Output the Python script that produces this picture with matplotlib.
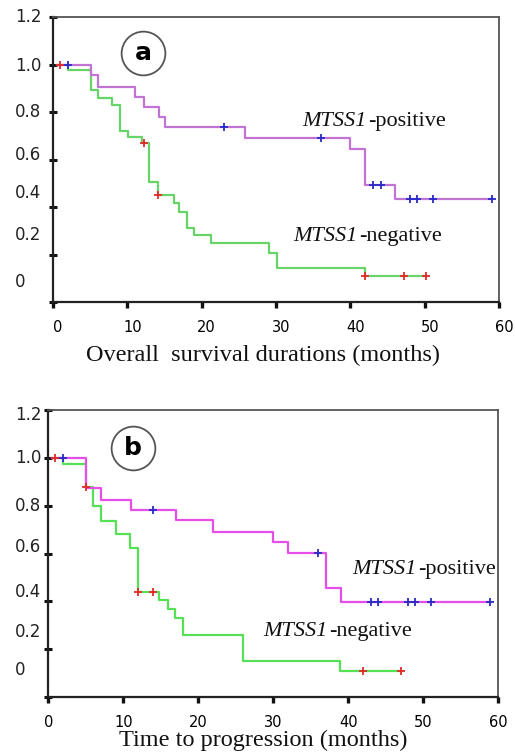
import numpy as np
import matplotlib
matplotlib.use("Agg")
import matplotlib.pyplot as plt
from matplotlib.transforms import ScaledTranslation

# ---------------- data ----------------
# Panel a: overall survival
a_pos_t = [0.5, 5.1, 6, 11, 12.2, 14.2, 15.1, 25.8, 40, 42, 46, 59.1]
a_pos_s = [1.0, 0.956, 0.906, 0.864, 0.822, 0.78, 0.738, 0.692, 0.644, 0.493, 0.434, 0.434]
a_pos_cens = [2, 23, 36.1, 43.1, 44.1, 48, 49, 51.1, 59.1]

a_neg_t = [0.5, 2, 5.1, 6, 8, 9, 10.1, 12, 12.9, 14.1, 16.3, 17, 18, 19, 21.3, 29.1, 30.1, 42, 50.2]
a_neg_s = [1.0, 0.977, 0.893, 0.86, 0.829, 0.72, 0.696, 0.668, 0.507, 0.45, 0.415, 0.38, 0.31,
           0.282, 0.25, 0.208, 0.142, 0.111, 0.111]
a_neg_cens = [1, 12.3, 14.1, 42, 47.2, 50.2]

# Panel b: time to progression
b_pos_t = [0.5, 5, 7, 11, 17, 22, 30, 32, 37, 39, 58.9]
b_pos_s = [1.0, 0.873, 0.825, 0.78, 0.738, 0.689, 0.647, 0.601, 0.454, 0.396, 0.396]
b_pos_cens = [1.9, 14, 36, 43, 43.9, 47.9, 48.9, 51, 58.9]

b_neg_t = [0.5, 1.9, 5, 5.9, 7, 9, 10.9, 12, 14.8, 16, 16.9, 18, 25.9, 38.9, 47]
b_neg_s = [1.0, 0.974, 0.877, 0.8, 0.737, 0.68, 0.622, 0.44, 0.406, 0.368, 0.332, 0.259,
           0.152, 0.11, 0.11]
b_neg_cens = [0.9, 5, 12, 13.9, 41.9, 47]

x_ticks = [0, 10, 20, 30, 40, 50, 60]
y_ticks = [0, 0.2, 0.4, 0.6, 0.8, 1.0, 1.2]
y_tick_labels = ['0', '0.2', '0.4', '0.6', '0.8', '1.0', '1.2']
# where the printed y labels sit (they drift from the tick marks in the original)
a_ylabel_pos = [0.085, 0.282, 0.458, 0.619, 0.801, 0.995, 1.201]
b_ylabel_pos = [0.113, 0.273, 0.44, 0.628, 0.799, 0.999, 1.179]

gene = 'MTSS1'
pos_suffix = '-positive'
neg_suffix = '-negative'

fig = plt.figure(figsize=(5.15, 7.53), dpi=100)
ax_a = fig.add_axes([53/515, 1-302/753, 446/515, 285/753])
ax_b = fig.add_axes([48.3/515, 1-697/753, 450/515, 287/753])


def step_value(t, s, x):
    idx = np.searchsorted(np.asarray(t), x, side='right') - 1
    return np.asarray(s)[max(idx, 0)]


def group_label(ax, xy, suffix):
    t1 = ax.text(xy[0], xy[1], gene, ha='left', va='center', fontsize=16,
                 family='Liberation Serif', style='italic', color='#111')
    ax.annotate(suffix, xy=(1.0, 0.5), xycoords=t1, xytext=(1, 0), textcoords='offset points',
                ha='left', va='center', fontsize=16, family='Liberation Serif', color='#111')


def draw(ax, pos_t, pos_s, pos_c, neg_t, neg_s, neg_c, pos_col, neg_col,
         ylab_pos, ylab_x, letter, letter_xy, pos_xy, neg_xy, xlabel, xlab_xy, xshift):
    ax.step(neg_t, neg_s, where='post', color=neg_col, lw=1.6, zorder=3)
    ax.step(pos_t, pos_s, where='post', color=pos_col, lw=1.6, zorder=3)
    ax.plot(neg_c, [step_value(neg_t, neg_s, c) for c in neg_c], '+', color='#e02a2a',
            ms=6, mew=1.3, zorder=4)
    ax.plot(pos_c, [step_value(pos_t, pos_s, c) for c in pos_c], '+', color='#2a2ac8',
            ms=6, mew=1.3, zorder=4)
    ax.set_xlim(0, 60)
    ax.set_ylim(0, 1.2)
    ax.set_xticks(x_ticks)
    ax.set_xticklabels([str(v) for v in x_ticks], fontsize=10.5, family='DejaVu Sans')
    ax.set_yticks(y_ticks)
    ax.set_yticklabels([])
    ax.tick_params(axis='y', direction='inout', length=6, width=2.2, color='#111')
    ax.tick_params(axis='x', direction='out', length=4, width=2.4, color='#111', pad=9)
    for lbl in ax.get_xticklabels():
        lbl.set_transform(lbl.get_transform() + ScaledTranslation(xshift/100, 0, fig.dpi_scale_trans))
    for lab, yp in zip(y_tick_labels, ylab_pos):
        ax.text(ylab_x, yp, lab, transform=ax.get_yaxis_transform(), ha='left', va='center',
                fontsize=12, family='DejaVu Sans', color='#222')
    for side in ['left', 'bottom']:
        ax.spines[side].set_color('#222')
        ax.spines[side].set_linewidth(1.6)
    for side in ['top', 'right']:
        ax.spines[side].set_color('#555')
        ax.spines[side].set_linewidth(1.3)
    # circled panel letter
    ax.plot([letter_xy[0]], [letter_xy[1]], 'o', ms=31.5, mfc='white', mec='#555', mew=1.3,
            zorder=5, clip_on=False)
    ax.text(letter_xy[0], letter_xy[1], letter, ha='center', va='center', fontsize=18,
            fontweight='bold', family='DejaVu Sans', zorder=6)
    group_label(ax, pos_xy, pos_suffix)
    group_label(ax, neg_xy, neg_suffix)
    ax.set_xlabel(xlabel, fontsize=17.5, family='Liberation Serif', color='#111')
    ax.xaxis.label.set_va('center')
    ax.xaxis.set_label_coords(*xlab_xy)


draw(ax_a, a_pos_t, a_pos_s, a_pos_cens, a_neg_t, a_neg_s, a_neg_cens,
     '#c274d4', '#66d466', a_ylabel_pos, (15-53)/446, 'a', (12.1, 1.048),
     (33.5, 0.759), (32.3, 0.275), 'Overall  survival durations (months)',
     (0.471, -0.186), 5)
draw(ax_b, b_pos_t, b_pos_s, b_pos_cens, b_neg_t, b_neg_s, b_neg_cens,
     '#e64ee8', '#55e055', b_ylabel_pos, (15-48.3)/450, 'b', (11.3, 1.04),
     (40.5, 0.534), (28.7, 0.273), 'Time to progression (months)',
     (0.477, -0.152), 0)

fig.savefig('out.png', dpi=100)
